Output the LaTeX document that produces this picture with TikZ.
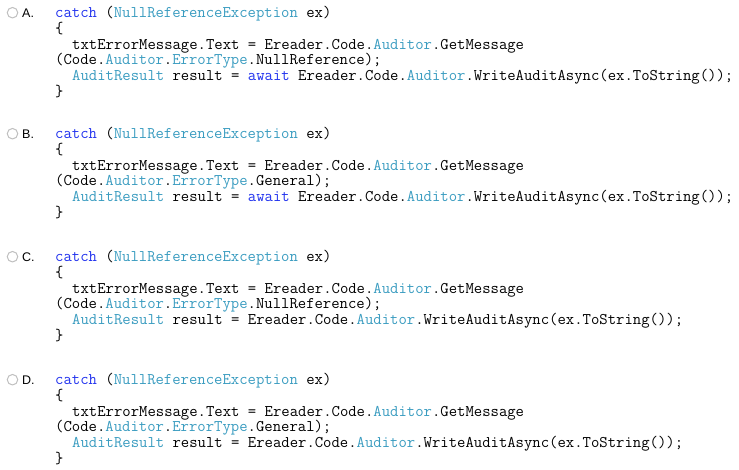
\documentclass[tikz,border=0pt]{standalone}
\usepackage{fontspec}
\setmainfont{Liberation Sans}
\definecolor{kwblue}{HTML}{2233EE}
\definecolor{typeteal}{HTML}{3A9CC0}
\newcommand{\kw}[1]{\textcolor{kwblue}{#1}}
\newcommand{\ty}[1]{\textcolor{typeteal}{#1}}

\begin{document}
\begin{tikzpicture}[x=1pt,y=-1pt,
  radio/.style={circle,draw=gray!50,line width=1pt,minimum size=10.5pt,inner sep=0pt},
  optlabel/.style={anchor=base west,inner sep=0pt,font=\fontsize{12.5}{14}\selectfont},
  code/.style={anchor=base west,inner sep=0pt,font=\ttfamily\fontsize{16.25}{16}\selectfont}]
\useasboundingbox (0,0) rectangle (739,469);

\foreach \opt/\yy/\err/\aw in {A/0/NullReference/1,B/121/General/1,C/244/NullReference/0,D/367/General/0}{
  \node[radio] (radio\opt) at (12.5,\yy+12.7) {};
  \node[optlabel] (lbl\opt) at (22,\yy+17.5) {\opt.};
  \node[code] (catch\opt) at (55,\yy+17.5) {\kw{catch} (\ty{NullReferenceException} ex)};
  \node[code] (open\opt) at (55,\yy+33.3) {\{};
  \node[code] (msg\opt) at (72,\yy+49.1) {txtErrorMessage.Text = Ereader.Code.\ty{Auditor}.GetMessage};
  \node[code] (arg\opt) at (55,\yy+64.9) {(Code.\ty{Auditor}.\ty{ErrorType}.\err);};
  \node[code] (write\opt) at (72,\yy+80.7) {\ty{AuditResult} result = \ifnum\aw=1 \kw{await} \fi Ereader.Code.\ty{Auditor}.WriteAuditAsync(ex.ToString());};
  \node[code] (close\opt) at (55,\yy+96.5) {\}};
}
\end{tikzpicture}
\end{document}
